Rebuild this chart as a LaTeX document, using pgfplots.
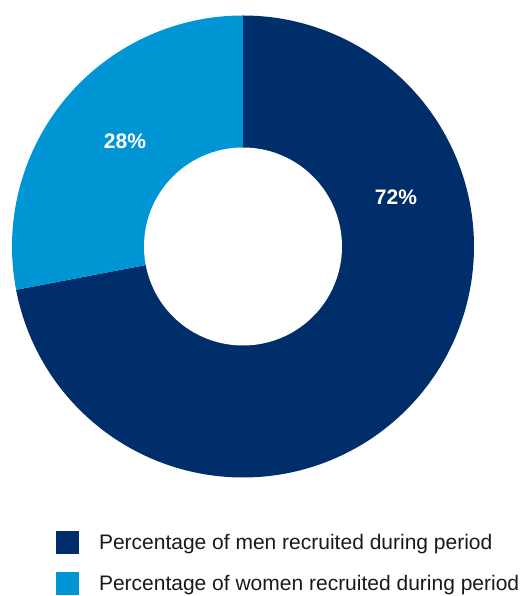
\documentclass[border=0pt]{standalone}
\usepackage{pgfplots}
\pgfplotsset{compat=1.18}
\usepackage{fontspec}
\setmainfont{Liberation Sans}
\definecolor{navy}{HTML}{002E6B}
\definecolor{sky}{HTML}{0096D6}
\definecolor{txt}{HTML}{1A1A1A}
\def\men{72}
\def\women{28}
\begin{document}
\begin{tikzpicture}
\begin{axis}[
  x=1pt, y=1pt,
  xmin=0, xmax=523, ymin=0, ymax=596,
  hide axis,
  clip=false,
  legend cell align=left,
  legend style={draw=none, fill=none, at={(axis cs:56,65)}, anchor=north west,
    inner sep=0pt, outer sep=0pt, row sep=18pt,
    font=\fontsize{21}{25}\selectfont\color{txt},
    nodes={inner sep=0pt},
    /tikz/every odd column/.append style={column sep=20pt}},
  legend image code/.code={\fill[#1] (0pt,-11.5pt) rectangle (23pt,11.5pt);},
]
% background
\fill[white] (axis cs:0,0) rectangle (axis cs:523,596);
% men slice: 0 .. 72 percent, clockwise from top
\addplot[fill=navy, draw=none, domain=0:\men, samples=200, variable=\t]
  ({243+231*sin(3.6*\t)}, {349.5+231*cos(3.6*\t)}) -- (axis cs:243,349.5) -- cycle;
\addlegendentry{Percentage of men recruited during period}
% women slice
\addplot[fill=sky, draw=none, domain=\men:100, samples=100, variable=\t]
  ({243+231*sin(3.6*\t)}, {349.5+231*cos(3.6*\t)}) -- (axis cs:243,349.5) -- cycle;
\addlegendentry{Percentage of women recruited during period}
% hole
\addplot[fill=white, draw=none, domain=0:360, samples=200, forget plot]
  ({243+99*cos(x)}, {349.5+99*sin(x)}) -- cycle;
\node[text=white, font=\bfseries\fontsize{21}{25}\selectfont] at (axis cs:396,398.5) {\men\%};
\node[text=white, font=\bfseries\fontsize{21}{25}\selectfont] at (axis cs:125,455) {\women\%};
\end{axis}
\pgfresetboundingbox
\path (current axis.south west) rectangle (current axis.north east);
\end{tikzpicture}
\end{document}
